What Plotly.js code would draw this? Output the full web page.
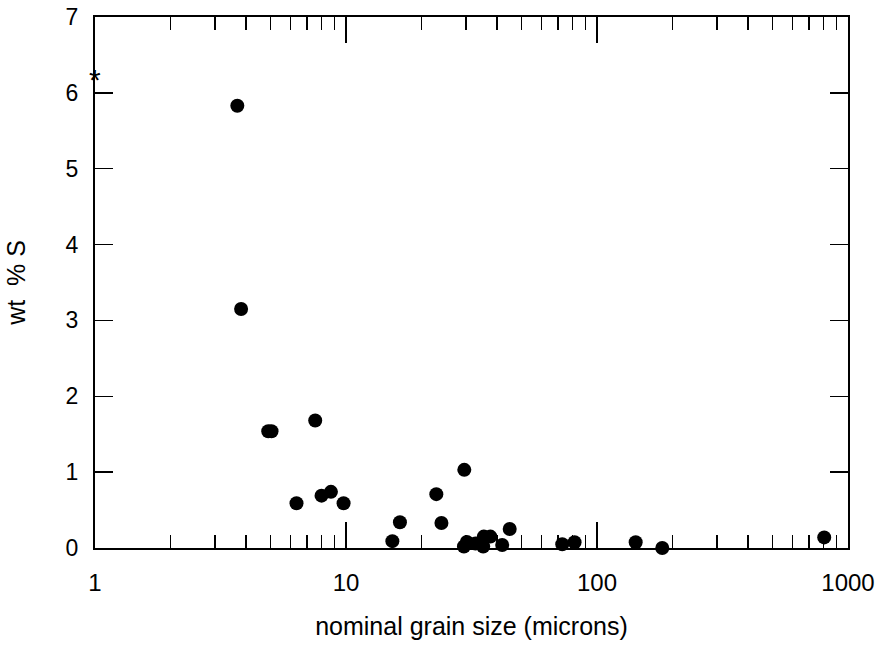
<!DOCTYPE html>
<html>
<head>
<meta charset="utf-8">
<script src="https://cdn.plot.ly/plotly-3.0.1.min.js"></script>
<style>html,body{margin:0;padding:0;background:#fff;}#chart{width:878px;height:645px;}</style>
</head>
<body>
<div id="chart"></div>
<script>
// nominal grain size (microns)
const grainSize = [3.69, 3.82, 4.9, 5.05, 7.54, 6.35, 7.99, 8.71, 9.78, 15.3, 16.4, 22.9, 24.0, 29.6, 29.5, 30.3, 32.8, 35.4, 37.6, 35.2, 41.9, 44.9, 72.7, 81.4, 142.6, 182, 804];
// wt % S
const wtS = [5.83, 3.15, 1.54, 1.54, 1.68, 0.59, 0.69, 0.74, 0.59, 0.09, 0.34, 0.71, 0.33, 1.03, 0.02, 0.08, 0.06, 0.15, 0.15, 0.02, 0.04, 0.25, 0.05, 0.075, 0.075, 0.0, 0.14];
const xTickVals = [1, 10, 100, 1000];
const xTickText = ['1', '10', '100', '1000'];
const yTickVals = [0, 1, 2, 3, 4, 5, 6, 7];

const trace = {
  x: grainSize, y: wtS, type: 'scatter', mode: 'markers',
  marker: {color: '#000', size: 14, line: {width: 0}},
  cliponaxis: false, hoverinfo: 'x+y'
};

const font = {family: 'Liberation Sans, Arial, sans-serif', color: '#000'};

const layout = {
  width: 878, height: 645,
  margin: {l: 95, r: 30, t: 17, b: 97},
  paper_bgcolor: '#fff', plot_bgcolor: '#fff',
  showlegend: false,
  font: font,
  xaxis: {
    type: 'log', range: [0, 3],
    tickvals: xTickVals, ticktext: xTickText,
    ticks: 'inside', ticklen: 26, tickwidth: 2, tickcolor: '#000',
    minor: {ticks: 'inside', ticklen: 13, tickwidth: 1.5, tickcolor: '#000', dtick: 'D1', showgrid: false},
    showline: true, linecolor: '#000', linewidth: 2, mirror: 'ticks',
    showgrid: false, zeroline: false,
    tickfont: {family: font.family, size: 24, color: '#000'},
    ticklabelstandoff: 12,
    title: {text: 'nominal grain size (microns)', font: {family: font.family, size: 25, color: '#000'}, standoff: 23}
  },
  yaxis: {
    range: [0, 7],
    tickvals: yTickVals,
    ticks: 'inside', ticklen: 18, tickwidth: 1.5, tickcolor: '#000',
    showline: true, linecolor: '#000', linewidth: 2, mirror: 'ticks',
    showgrid: false, zeroline: false,
    tickfont: {family: font.family, size: 23, color: '#000'},
    ticklabelstandoff: 10,
    title: {text: 'wt  % S', font: {family: font.family, size: 25, color: '#000'}, standoff: 33}
  },
  annotations: [{
    x: 0, y: 6.25, xref: 'x', yref: 'y', text: '*', showarrow: false,
    font: {family: font.family, size: 30, color: '#000'}, xanchor: 'center', yanchor: 'middle', yshift: -6
  }]
};

Plotly.newPlot('chart', [trace], layout, {displayModeBar: false, staticPlot: true});
</script>
</body>
</html>
